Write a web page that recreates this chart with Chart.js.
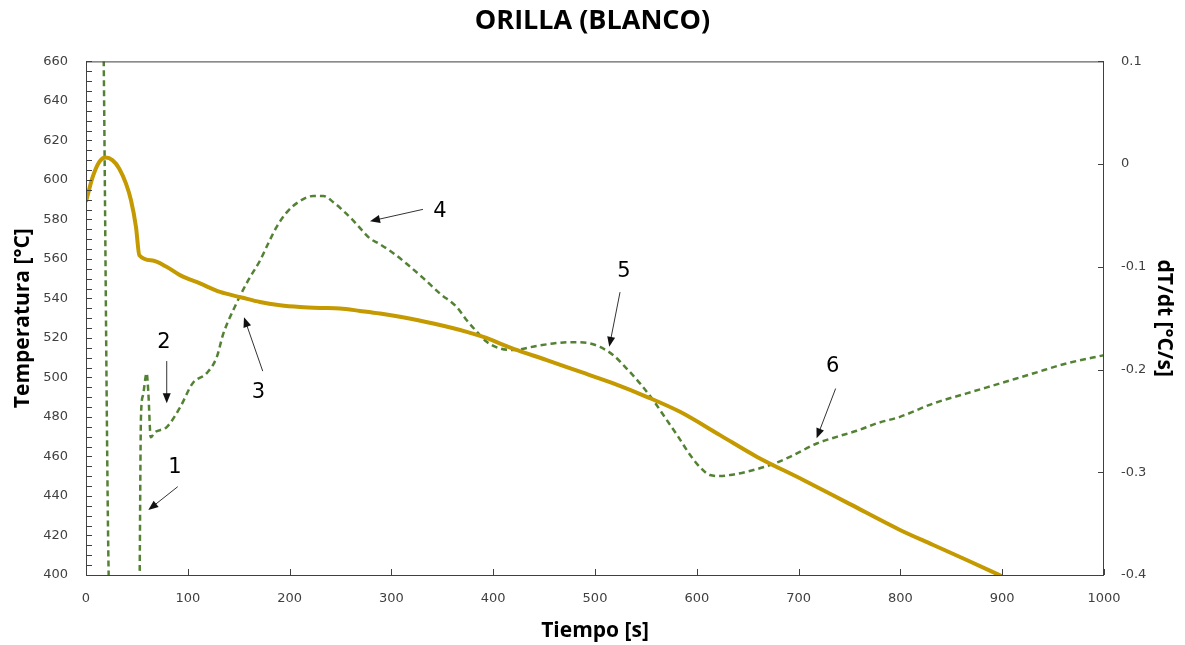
<!DOCTYPE html>
<html>
<head>
<meta charset="utf-8">
<script src="https://cdn.jsdelivr.net/npm/chart.js@4.4.1/dist/chart.umd.min.js"></script>
<style>
  html, body { margin: 0; padding: 0; background: #fff; }
  #wrap { width: 1185px; height: 645px; }
</style>
</head>
<body>
<div id="wrap"><canvas id="chart"></canvas></div>
<script>
// temperatura (eje izquierdo)
const timeT = [0, 6.6, 13.1, 19, 26.2, 32.7, 39.3, 44.2, 49.1, 52.4, 65.5, 78.6, 92.3, 112, 131.6,
  152.9, 170.9, 190.6, 210.2, 229.9, 249.5, 269.2, 288.8, 308.4, 341.2, 374, 390.3, 420, 452.6,
  485.3, 518, 550.8, 583.5, 622.8, 658.8, 704.6, 750, 799.6, 832.3, 865.1, 900];
const temp = [589, 601.5, 609.1, 611.3, 609.9, 605.7, 598.1, 589.7, 576.2, 561.9, 559.2, 556.2, 551.8, 547.6, 543.3,
  540.5, 538.2, 536.6, 535.7, 535.2, 534.9, 533.7, 532.4, 530.7, 527.3, 523.1, 520.5, 514.5, 508.8,
  502.9, 497, 490.2, 482.6, 470.8, 459.9, 448.1, 436, 422.8, 415.2, 407.6, 399.3];

// derivada dT/dt (eje derecho)
const timeD = [17, 23.5, 52, 54, 56, 59.6, 61.2, 63.6, 67.8, 79.3, 92.3, 105, 118.6, 128.4, 134.9,
  144.7, 159.4, 170.9, 179.1, 187.3, 197.2, 208.5, 223.3, 233.1, 242.9, 254.4, 262.6, 270.8, 279,
  287.1, 300.3, 315, 331.3, 347.7, 364.1, 374, 383.8, 393.6, 406.7, 419.7, 442.7, 459, 475.4,
  491.8, 504.9, 518, 531.1, 544.2, 557.3, 570.4, 581.8, 593.3, 603.1, 612.9, 622.8, 632.6, 649,
  671.9, 691.5, 717.8, 737.4, 757.1, 776.7, 799.6, 832.3, 865.1, 897.8, 930.3, 963.4, 1000];
const dTdt = [0.14, -0.44, -0.46, -0.246, -0.225, -0.2035, -0.222, -0.266, -0.261, -0.256, -0.237, -0.213, -0.2035, -0.188, -0.165,
  -0.142, -0.113, -0.094, -0.077, -0.061, -0.047, -0.037, -0.031, -0.031, -0.037, -0.047, -0.055, -0.064, -0.0725,
  -0.077, -0.0855, -0.097, -0.111, -0.126, -0.139, -0.152, -0.163, -0.173, -0.1795, -0.181, -0.177, -0.1746, -0.1733,
  -0.174, -0.178, -0.186, -0.199, -0.2135, -0.23, -0.249, -0.2655, -0.283, -0.295, -0.3027, -0.3037, -0.3027, -0.2995,
  -0.293, -0.285, -0.272, -0.2655, -0.2596, -0.2524, -0.246, -0.233, -0.2232, -0.2135, -0.2038, -0.194, -0.186];

const xTicks = [0, 1000, 100];
const yTicks = [400, 660, 20];
const y2Ticks = [-0.4, 0.1, 0.1];

// etiquetas numeradas con flecha (coordenadas en tiempo / temperatura)
const notes = [
  { text: '1', at: [87.4, 454.6], from: [90.1, 444.7], to: [61.2, 432.9] },
  { text: '2', at: [76.6, 517.9], from: [79.3, 508.3], to: [79.3, 487] },
  { text: '3', at: [169.3, 492.6], from: [173.6, 503.2], to: [155.2, 530.5] },
  { text: '4', at: [347.7, 584.1], from: [331, 585.1], to: [279, 579.1] },
  { text: '5', at: [528.5, 553.8], from: [524.6, 543.2], to: [514, 515.5] },
  { text: '6', at: [733.5, 505.4], from: [736.4, 494.4], to: [717.7, 469.2] }
];

const boxPlugin = {
  id: 'boxPlugin',
  afterDatasetsDraw(chart) {
    const { ctx, chartArea: a, scales } = chart;
    const sx = scales.x, sy = scales.y, sy2 = scales.y2;
    ctx.save();
    ctx.strokeStyle = '#404040';
    ctx.lineWidth = 1;
    ctx.strokeRect(a.left + 0.5, a.top + 0.5, a.right - a.left - 1, a.bottom - a.top);
    ctx.beginPath();
    // marcas hacia dentro
    for (let v = yTicks[0]; v <= yTicks[1]; v += 5) {
      const p = Math.round(sy.getPixelForValue(v)) + 0.5;
      ctx.moveTo(a.left, p); ctx.lineTo(a.left + 6, p);
    }
    for (let v = xTicks[0]; v <= xTicks[1]; v += xTicks[2]) {
      const p = Math.round(sx.getPixelForValue(v)) + 0.5;
      ctx.moveTo(p, a.bottom); ctx.lineTo(p, a.bottom - 6);
    }
    for (let i = 0; i <= 5; i++) {
      const p = Math.round(sy2.getPixelForValue(y2Ticks[0] + i * y2Ticks[2])) + 0.5;
      ctx.moveTo(a.right, p); ctx.lineTo(a.right - 6, p);
    }
    ctx.stroke();

    ctx.fillStyle = '#000';
    ctx.font = '21px "DejaVu Sans"';
    ctx.textAlign = 'center';
    ctx.textBaseline = 'middle';
    notes.forEach(n => {
      ctx.fillText(n.text, sx.getPixelForValue(n.at[0]), sy.getPixelForValue(n.at[1]));
      const x1 = sx.getPixelForValue(n.from[0]), y1 = sy.getPixelForValue(n.from[1]);
      const x2 = sx.getPixelForValue(n.to[0]), y2 = sy.getPixelForValue(n.to[1]);
      const ang = Math.atan2(y2 - y1, x2 - x1);
      ctx.strokeStyle = '#333';
      ctx.lineWidth = 1;
      ctx.beginPath();
      ctx.moveTo(x1, y1);
      ctx.lineTo(x2 - 8 * Math.cos(ang), y2 - 8 * Math.sin(ang));
      ctx.stroke();
      ctx.fillStyle = '#111';
      ctx.beginPath();
      ctx.moveTo(x2, y2);
      ctx.lineTo(x2 - 10 * Math.cos(ang) + 4 * Math.sin(ang), y2 - 10 * Math.sin(ang) - 4 * Math.cos(ang));
      ctx.lineTo(x2 - 10 * Math.cos(ang) - 4 * Math.sin(ang), y2 - 10 * Math.sin(ang) + 4 * Math.cos(ang));
      ctx.closePath();
      ctx.fill();
      ctx.fillStyle = '#000';
    });
    ctx.restore();
  }
};

const tickFont = { family: '"DejaVu Sans"', size: 13 };
const titleFont = { family: '"Open Sans"', size: 21, weight: 'bold' };

new Chart(document.getElementById('chart'), {
  type: 'line',
  data: {
    datasets: [{
      label: 'Temperatura',
      data: timeT.map((t, i) => ({ x: t, y: temp[i] })),
      borderColor: '#C49A00',
      borderWidth: 4,
      pointRadius: 0,
      cubicInterpolationMode: 'monotone',
      yAxisID: 'y'
    }, {
      label: 'dT/dt',
      data: timeD.map((t, i) => ({ x: t, y: dTdt[i] })),
      borderColor: '#548235',
      borderWidth: 2.5,
      borderDash: [6, 4],
      pointRadius: 0,
      cubicInterpolationMode: 'monotone',
      yAxisID: 'y2'
    }]
  },
  options: {
    responsive: true,
    maintainAspectRatio: false,
    animation: false,
    layout: { padding: 0 },
    plugins: {
      legend: { display: false },
      tooltip: { enabled: false },
      title: {
        display: true,
        text: 'ORILLA (BLANCO)',
        color: '#000',
        font: { family: '"Open Sans"', size: 27, weight: 'bold' },
        padding: { top: 5, bottom: 24 }
      }
    },
    scales: {
      x: {
        type: 'linear',
        min: xTicks[0], max: xTicks[1],
        ticks: { stepSize: xTicks[2], color: '#404040', font: tickFont, padding: 8,
          callback: v => String(v) },
        grid: { display: false },
        border: { display: false },
        title: { display: true, text: 'Tiempo [s]', color: '#000', font: titleFont, padding: { top: 0, bottom: 1 } },
        afterFit(s) { s.height = 70; }
      },
      y: {
        position: 'left',
        min: yTicks[0], max: yTicks[1],
        ticks: { stepSize: yTicks[2], color: '#404040', font: tickFont, padding: 10 },
        grid: { display: false },
        border: { display: false },
        title: { display: true, text: 'Temperatura [°C]', color: '#000', font: titleFont, padding: { top: 10 } },
        afterFit(s) { s.width = 86; }
      },
      y2: {
        position: 'right',
        min: y2Ticks[0], max: y2Ticks[1],
        ticks: { stepSize: y2Ticks[2], color: '#404040', font: tickFont, padding: 9,
          callback: v => String(Math.round(v * 10) / 10) },
        grid: { display: false },
        border: { display: false },
        title: { display: true, text: 'dT/dt [°C/s]', color: '#000', font: titleFont, padding: { top: 8 } },
        afterFit(s) { s.width = 81; }
      }
    }
  },
  plugins: [boxPlugin]
});
</script>
</body>
</html>
